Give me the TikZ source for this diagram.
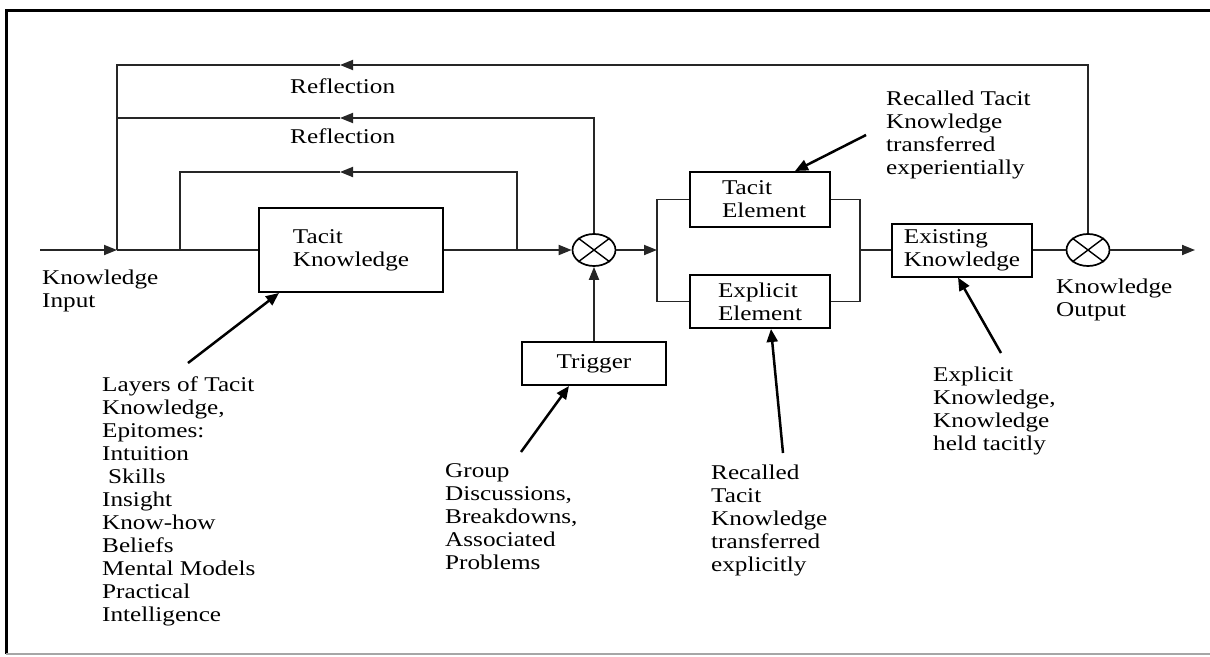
\documentclass[tikz,border=0pt]{standalone}
\usepackage{fontspec}
\setmainfont{Liberation Serif}[FakeStretch=1.2]
\usetikzlibrary{shapes.geometric,arrows.meta}

\tikzset{
    block/.style={draw, line width=2pt, inner sep=0pt, align=left,
        font=\fontsize{21}{23}\selectfont},
    mixer/.style={draw, ellipse, line width=1.7pt, minimum width=43pt,
        minimum height=32pt, inner sep=0pt},
    txt/.style={anchor=north west, inner sep=0pt, align=left,
        font=\fontsize{21}{23}\selectfont},
    flow/.style={line width=1.8pt, black!85},
    tip/.style={-{Triangle[length=13pt,width=10pt]}},
    pointer/.style={line width=2.5pt, -{Triangle[length=13pt,width=11pt]}},
}

\begin{document}
\begin{tikzpicture}[x=1pt, y=-1pt]

    \useasboundingbox (0,0) rectangle (1210,656);

    % Draw the frame
    \draw[line width=3pt] (1220,10) -- (6,10) -- (6,654);
    \draw[line width=1.5pt, black!35] (6,654) -- (1220,654);

    % Draw the blocks
    \node[block, minimum width=184pt, minimum height=84pt] (tk) at (351,250) {Tacit\\Knowledge};
    \node[block, minimum width=140pt, minimum height=55pt] (te) at (760,199.5) {\hspace{8pt}Tacit\\\hspace{8pt}Element};
    \node[block, minimum width=140pt, minimum height=53pt] (ee) at (760,301.5) {Explicit\\Element};
    \node[block, minimum width=140pt, minimum height=53pt] (ek) at (962,250) {Existing\\Knowledge\hspace{12pt}};
    \node[block, minimum width=144pt, minimum height=43pt] (trig) at (594,363.5) {Trigger};

    % Draw the two mixers
    \node[mixer] (c1) at (594,250) {};
    \node[mixer] (c2) at (1088,250) {};
    \draw[line width=1.4pt] (c1.north west) -- (c1.south east) (c1.north east) -- (c1.south west);
    \draw[line width=1.4pt] (c2.north west) -- (c2.south east) (c2.north east) -- (c2.south west);

    % Draw the junctions on the main line
    \coordinate (in) at (40,250);
    \coordinate (j1) at (117,250);
    \coordinate (j2) at (180,250);
    \coordinate (j3) at (517,250);
    \coordinate (sl) at (657,250);
    \coordinate (sr) at (860,250);
    \coordinate (out) at (1195,250);

    % Arrow marks on the feedback loops
    \coordinate (a1) at (340,65);
    \coordinate (a2) at (340,118);
    \coordinate (a3) at (340,172);

    % Draw the main line
    \draw[flow,tip] (in) -- (j1);
    \draw[flow] (j1) -- (tk.west);
    \draw[flow,tip] (tk.east) -- (c1.west);
    \draw[flow,tip] (c1.east) -- (sl);
    \draw[flow] (te.west) -| (sl) |- (ee.west);
    \draw[flow] (te.east) -| (sr) |- (ee.east);
    \draw[flow] (sr) -- (ek.west);
    \draw[flow] (ek.east) -- (c2.west);
    \draw[flow,tip] (c2.east) -- (out);
    \draw[flow,tip] (trig.north) -- (c1.south);

    % Draw the loops
    \draw[flow,tip] (j3) |- (a3);
    \draw[flow] (a3) -| (j2);
    \draw[flow,tip] (c1.north) |- (a2);
    \draw[flow] (a2) -| (j1);
    \draw[flow,tip] (c2.north) |- (a1);
    \draw[flow] (a1) -| (j1);

    % Labels on the loops and the line
    \node[txt] (ref1) at (290,79) {Reflection};
    \node[txt] (ref2) at (290,129) {Reflection};
    \node[txt] (kin) at (42,270) {Knowledge\\Input};
    \node[txt] (kout) at (1056,279) {Knowledge\\Output};

    % Draw the notes
    \node[txt] (layers) at (102,377) {Layers of Tacit\\Knowledge,\\Epitomes:\\Intuition\\\hspace{6pt}Skills\\Insight\\Know-how\\Beliefs\\Mental Models\\Practical\\Intelligence};
    \node[txt] (group) at (445,463) {Group\\Discussions,\\Breakdowns,\\Associated\\Problems};
    \node[txt] (rtx) at (711,465) {Recalled\\Tacit\\Knowledge\\transferred\\explicitly};
    \node[txt] (ekn) at (933,367) {Explicit\\Knowledge,\\Knowledge\\held tacitly};
    \node[txt] (rte) at (886,91) {Recalled Tacit\\Knowledge\\transferred\\experientially};

    % Draw the pointers from the notes
    \coordinate (p1) at (188,363);
    \coordinate (p2) at (521,452);
    \coordinate (p3) at (783,453);
    \coordinate (p4) at (1001,353);
    \coordinate (p5) at (866,135);
    \draw[pointer] (p1) -- ([xshift=21pt]tk.south west);
    \draw[pointer] (p2) -- ([xshift=-25pt]trig.south);
    \draw[pointer] (p3) -- ([xshift=11pt]ee.south);
    \draw[pointer] (p4) -- ([xshift=-4pt]ek.south);
    \draw[pointer] (p5) -- ([xshift=35pt]te.north);

\end{tikzpicture}
\end{document}
